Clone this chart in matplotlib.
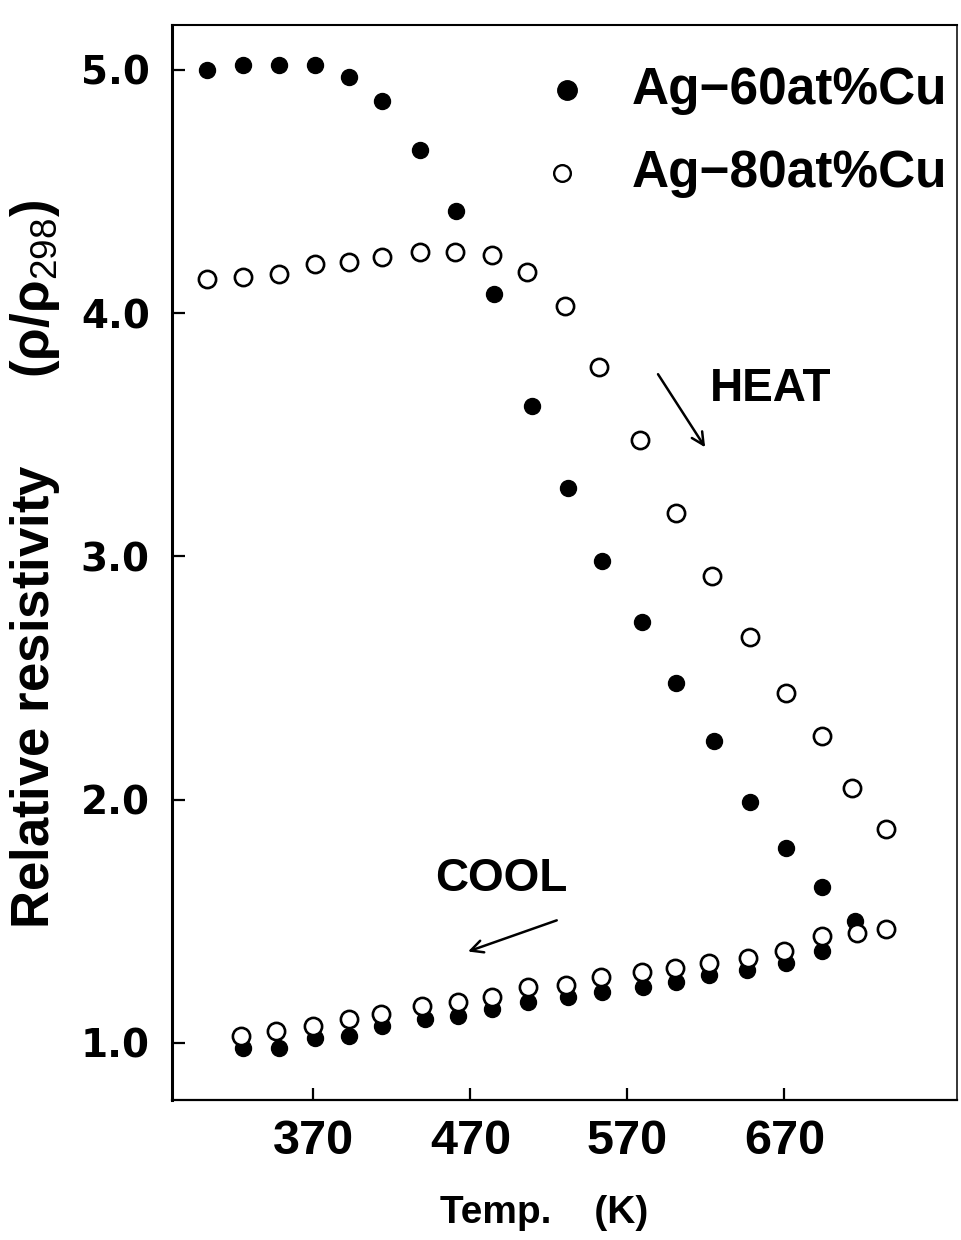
"""Relative resistivity of Ag-Cu films on heating and cooling."""
import matplotlib

matplotlib.use("Agg")
import matplotlib.pyplot as plt

plt.rcParams["font.family"] = ["Liberation Sans", "DejaVu Sans"]
plt.rcParams["mathtext.fontset"] = "custom"
plt.rcParams["mathtext.rm"] = "Liberation Sans"

# heating run (K, rho/rho298)
heat_t_60 = [302, 325, 348, 371, 393, 414, 438, 461, 485, 509, 532, 554, 579,
             601, 625, 648, 671, 694, 715]
heat_r_60 = [5.00, 5.02, 5.02, 5.02, 4.97, 4.87, 4.67, 4.42, 4.08, 3.62, 3.28,
             2.98, 2.73, 2.48, 2.24, 1.99, 1.80, 1.64, 1.50]
heat_t_80 = [302, 325, 348, 371, 393, 414, 438, 460, 484, 506, 530, 552, 578,
             601, 624, 648, 671, 694, 713, 735]
heat_r_80 = [4.14, 4.15, 4.16, 4.20, 4.21, 4.23, 4.25, 4.25, 4.24, 4.17, 4.03,
             3.78, 3.48, 3.18, 2.92, 2.67, 2.44, 2.26, 2.05, 1.88]

# cooling run
cool_t_60 = [325, 348, 371, 393, 414, 441, 462, 484, 507, 532, 554, 580, 601,
             622, 646, 671, 694]
cool_r_60 = [0.98, 0.98, 1.02, 1.03, 1.07, 1.10, 1.11, 1.14, 1.17, 1.19, 1.21,
             1.23, 1.25, 1.28, 1.30, 1.33, 1.38]
cool_t_80 = [324, 346, 370, 393, 413, 439, 462, 484, 507, 531, 553, 579, 600,
             622, 647, 670, 694, 716, 735]
cool_r_80 = [1.03, 1.05, 1.07, 1.10, 1.12, 1.15, 1.17, 1.19, 1.23, 1.24, 1.27,
             1.29, 1.31, 1.33, 1.35, 1.38, 1.44, 1.45, 1.47]

x_ticks = [370, 470, 570, 670]
y_ticks = [1.0, 2.0, 3.0, 4.0, 5.0]

fig = plt.figure(figsize=(9.61, 12.40), dpi=100)
ax = fig.add_axes([0.179, 0.113, 0.817, 0.867])

filled = dict(ls="none", marker="o", ms=11.5, color="black", zorder=3)
hollow = dict(ls="none", marker="o", ms=12.4, mew=1.9, mec="black", mfc="white", zorder=4)

ax.plot(heat_t_60, heat_r_60, **filled)
ax.plot(cool_t_60, cool_r_60, **filled)
ax.plot(heat_t_80, heat_r_80, **hollow)
ax.plot(cool_t_80, cool_r_80, **hollow)

ax.set_xlim(280, 780)
ax.set_ylim(0.766, 5.185)
ax.set_xticks(x_ticks)
ax.set_xticklabels([str(t) for t in x_ticks], fontsize=35, fontweight="bold")
ax.set_yticks(y_ticks)
ax.set_yticklabels([f"{v:.1f}" for v in y_ticks], fontsize=28, fontweight="bold",
                   family="DejaVu Sans")
ax.tick_params(axis="x", direction="in", length=9, width=1.6, pad=14)
ax.tick_params(axis="y", direction="in", length=9, width=1.6, pad=16)

for side, lw in [("left", 2.2), ("bottom", 1.6), ("top", 1.5), ("right", 1.1)]:
    ax.spines[side].set_linewidth(lw)

# legend drawn by hand, like the original
ax.plot([0.503], [0.939], transform=ax.transAxes, marker="o", ms=14, color="black",
        clip_on=False)
ax.plot([0.497], [0.862], transform=ax.transAxes, marker="o", ms=12, mew=1.7,
        mec="black", mfc="white", clip_on=False)
ax.text(0.586, 0.939, "Ag\u221260at%Cu", transform=ax.transAxes, fontsize=37,
        fontweight="bold", va="center", ha="left")
ax.text(0.586, 0.862, "Ag\u221280at%Cu", transform=ax.transAxes, fontsize=37,
        fontweight="bold", va="center", ha="left")

# HEAT / COOL annotations
ax.text(0.685, 0.661, "HEAT", transform=ax.transAxes, fontsize=33,
        fontweight="bold", va="center", ha="left")
ax.annotate("", xy=(0.679, 0.607), xytext=(0.619, 0.675), xycoords="axes fraction",
            arrowprops=dict(arrowstyle="->", lw=1.8, color="black",
                            mutation_scale=22, shrinkA=0, shrinkB=0))
ax.text(0.335, 0.205, "COOL", transform=ax.transAxes, fontsize=33,
        fontweight="bold", va="center", ha="left")
ax.annotate("", xy=(0.377, 0.138), xytext=(0.490, 0.167), xycoords="axes fraction",
            arrowprops=dict(arrowstyle="->", lw=1.8, color="black",
                            mutation_scale=22, shrinkA=0, shrinkB=0))

fig.text(0.036, 0.545, "Relative resistivity      (\u03c1/\u03c1$_{298}$)", rotation=90,
         fontsize=38, fontweight="bold", ha="center", va="center")
fig.text(0.566, 0.022, "Temp.    (K)", fontsize=28, fontweight="bold",
         ha="center", va="center")

fig.savefig("out.png", dpi=100)
plt.close(fig)
